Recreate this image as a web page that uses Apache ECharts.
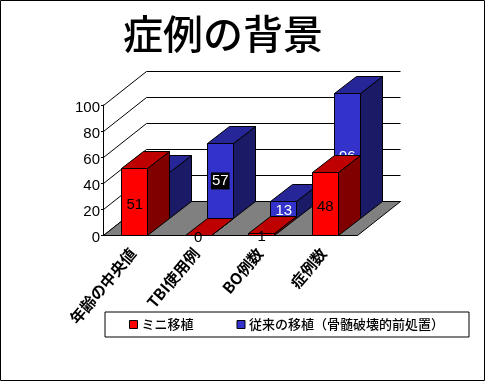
<!DOCTYPE html>
<html>
<head>
<meta charset="utf-8">
<style>
  html, body { margin: 0; padding: 0; background: #fff; }
  #chart { width: 486px; height: 382px; }
</style>
<script src="https://cdn.jsdelivr.net/npm/echarts@6/dist/echarts.min.js"></script>
</head>
<body>
<div id="chart"></div>
<script>
const categories = ['年齢の中央値', 'TBI使用例', 'BO例数', '症例数'];
const miniValues = [51, 0, 1, 48];
const conventionalValues = [35, 57, 13, 96];
const yTicks = [0, 20, 40, 60, 80, 100];
const miniName = 'ミニ移植';
const conventionalName = '従来の移植（骨髄破壊的前処置）';

const cjkFont = '"Noto Sans CJK JP", sans-serif';
const latinFont = '"Liberation Sans", Arial, sans-serif';

// fake 3D: offset of the back wall from the front of the plot
const depthX = 43;
const depthY = -34;
const barHalf = 13;
const barDepthX = 22;
const barDepthY = -17;

const redFaces = { front: '#ff0000', top: '#bf0000', side: '#800000' };
const blueFaces = { front: '#3333cc', top: '#262699', side: '#1a1a66' };

function px(v) {
  return Math.floor(v) + 0.5;
}

function poly(points, fill) {
  return {
    type: 'polygon',
    shape: { points: points.map(p => [px(p[0]), px(p[1])]) },
    style: { fill: fill, stroke: '#000', lineWidth: 1 }
  };
}

function renderFloor(params) {
  const g = params.coordSys;
  const b = g.y + g.height;
  return poly([
    [g.x, b],
    [g.x + g.width, b],
    [g.x + g.width + depthX, b + depthY],
    [g.x + depthX, b + depthY]
  ], '#808080');
}

function renderWallLine(params, api) {
  const g = params.coordSys;
  const y = api.coord([0, api.value(1)])[1];
  const line = (x1, y1, x2, y2) => ({
    type: 'line',
    shape: { x1: px(x1), y1: px(y1), x2: px(x2), y2: px(y2) },
    style: { stroke: '#000', lineWidth: 1 }
  });
  return {
    type: 'group',
    children: [
      line(g.x, y, g.x + depthX, y + depthY),
      line(g.x + depthX, y + depthY, g.x + g.width + depthX, y + depthY)
    ]
  };
}

function makeBarRenderer(faces, slot, labelOpts) {
  return function (params, api) {
    const idx = api.value(0);
    const val = api.value(1);
    const top = api.coord([idx, val]);
    const base = api.coord([idx, 0]);
    const l = top[0] - barHalf + slot * barDepthX;
    const r = top[0] + barHalf + slot * barDepthX;
    const t = top[1] + slot * barDepthY;
    const b = base[1] + slot * barDepthY;
    const dx = barDepthX;
    const dy = barDepthY;
    const children = [
      poly([[r, b], [r + dx, b + dy], [r + dx, t + dy], [r, t]], faces.side),
      poly([[l, t], [r, t], [r + dx, t + dy], [l + dx, t + dy]], faces.top),
      poly([[l, b], [r, b], [r, t], [l, t]], faces.front)
    ];
    const boxed = labelOpts.boxed === val;
    children.push({
      type: 'text',
      style: {
        x: (l + r) / 2,
        y: (t + b) / 2 + (boxed ? 0 : labelOpts.dy),
        text: String(val),
        fill: labelOpts.color,
        font: '15px ' + latinFont,
        align: 'center',
        verticalAlign: 'middle',
        backgroundColor: boxed ? '#000' : undefined,
        padding: boxed ? [1, 1] : undefined
      }
    });
    return { type: 'group', children: children };
  };
}

const chart = echarts.init(document.getElementById('chart'), null, { renderer: 'canvas' });

chart.setOption({
  animation: false,
  backgroundColor: '#fff',
  title: {
    text: '症例の背景',
    left: 123,
    top: 14,
    padding: 0,
    textStyle: { fontFamily: cjkFont, fontSize: 40, fontWeight: 500, color: '#000' }
  },
  graphic: [{
    type: 'rect',
    shape: { x: 0.5, y: 0.5, width: 484, height: 380 },
    style: { fill: 'none', stroke: '#000', lineWidth: 1 },
    silent: true
  }],
  legend: {
    left: 105,
    top: 312,
    padding: [6, 25, 6, 24],
    itemGap: 43,
    itemWidth: 8,
    itemHeight: 8,
    borderColor: '#000',
    borderWidth: 1,
    backgroundColor: '#fff',
    textStyle: { fontFamily: cjkFont, fontSize: 13, fontWeight: 500, color: '#000', padding: [0, 0, 0, -1] },
    selectedMode: false,
    data: [
      { name: miniName, icon: 'rect', itemStyle: { color: redFaces.front, borderColor: '#000', borderWidth: 1 } },
      { name: conventionalName, icon: 'rect', itemStyle: { color: blueFaces.front, borderColor: '#000', borderWidth: 1 } }
    ]
  },
  grid: { left: 103, right: 129, top: 105, bottom: 147 },
  xAxis: {
    type: 'category',
    data: categories,
    axisLine: { lineStyle: { color: '#000' } },
    axisTick: { length: 3, lineStyle: { color: '#000' } },
    axisLabel: {
      interval: 0,
      rotate: 50,
      margin: 13,
      padding: [0, 3, 0, 0],
      color: '#000',
      fontFamily: cjkFont,
      fontSize: 15.5,
      fontWeight: 'bold'
    }
  },
  yAxis: {
    type: 'value',
    min: 0,
    max: 100,
    interval: 20,
    splitLine: { show: false },
    axisLine: { show: true, lineStyle: { color: '#000' } },
    axisTick: { show: true, length: 2, lineStyle: { color: '#000' } },
    axisLabel: {
      margin: 3,
      formatter: '{t|{value}}',
      rich: { t: { padding: [5, 0, 0, 0], color: '#000', fontFamily: latinFont, fontSize: 15 } }
    }
  },
  series: [
    {
      name: 'walls',
      type: 'custom',
      z: 1,
      silent: true,
      clip: false,
      data: yTicks.map(v => [0, v]),
      renderItem: renderWallLine
    },
    {
      name: 'floor',
      type: 'custom',
      z: 2,
      silent: true,
      clip: false,
      data: [[0, 0]],
      renderItem: renderFloor
    },
    {
      name: conventionalName,
      type: 'custom',
      z: 3,
      silent: true,
      clip: false,
      itemStyle: { color: blueFaces.front },
      data: conventionalValues.map((v, i) => [i, v]),
      renderItem: makeBarRenderer(blueFaces, 1, { color: '#fff', dy: 1, boxed: 57 })
    },
    {
      name: miniName,
      type: 'custom',
      z: 4,
      silent: true,
      clip: false,
      itemStyle: { color: redFaces.front },
      data: miniValues.map((v, i) => [i, v]),
      renderItem: makeBarRenderer(redFaces, 0, { color: '#000', dy: 3 })
    }
  ]
});
</script>
</body>
</html>
